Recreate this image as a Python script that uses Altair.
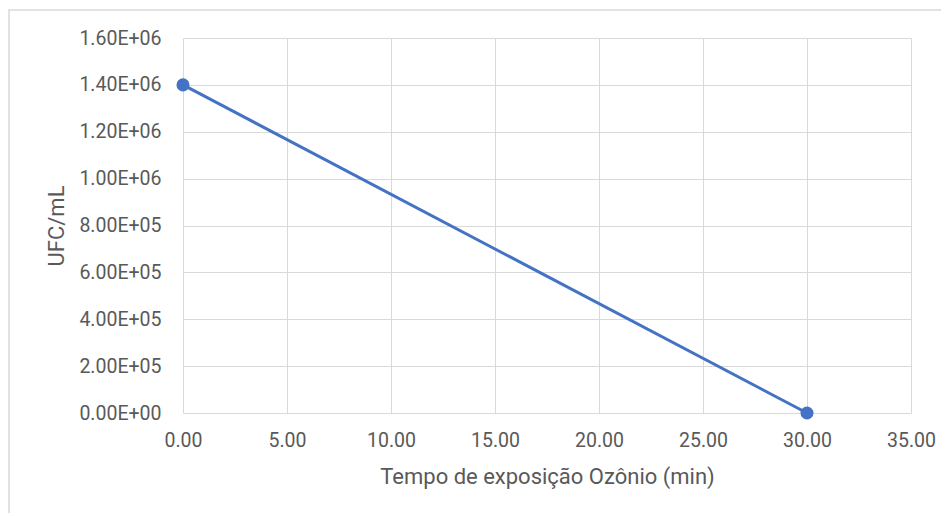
import altair as alt
import pandas as pd

# data
tempo_min = [0.0, 30.0]
ufc_ml = [1.4e6, 0.0]

x_ticks = [0, 5, 10, 15, 20, 25, 30, 35]
y_ticks = [0, 200000, 400000, 600000, 800000, 1000000, 1200000, 1400000, 1600000]
y_tick_labels = ["0.00E+00", "2.00E+05", "4.00E+05", "6.00E+05", "8.00E+05",
                 "1.00E+06", "1.20E+06", "1.40E+06", "1.60E+06"]

df = pd.DataFrame({"tempo": tempo_min, "ufc": ufc_ml})

label_expr = " : ".join(
    f"datum.value == {v} ? '{l}'" for v, l in zip(y_ticks, y_tick_labels)
) + " : ''"

FONT = "Roboto"
TXT = "#595959"
GRID = "#d9d9d9"
BLUE = "#4472C4"

x_enc = alt.X(
    "tempo:Q",
    scale=alt.Scale(domain=[0, 35], nice=False),
    axis=alt.Axis(
        values=x_ticks, format=".2f", title="Tempo de exposição Ozônio (min)",
        grid=True, gridColor=GRID, domain=False, ticks=False,
        labelFlush=False, labelOverlap=False,
        labelPadding=18, labelFontSize=19.5, labelColor=TXT, labelFont=FONT,
        titleFontSize=22, titleColor=TXT, titleFont=FONT, titleFontWeight="normal",
        titleBaseline="alphabetic", titleY=70,
    ),
)
y_enc = alt.Y(
    "ufc:Q",
    scale=alt.Scale(domain=[0, 1600000], nice=False),
    axis=alt.Axis(
        values=y_ticks, labelExpr=label_expr, title="UFC/mL",
        grid=True, gridColor=GRID, domain=False, ticks=False,
        labelFlush=False, labelOverlap=False,
        labelPadding=22, labelFontSize=19.5, labelColor=TXT, labelFont=FONT,
        titleFontSize=22, titleColor=TXT, titleFont=FONT, titleFontWeight="normal",
        titleBaseline="alphabetic", titleX=-120, titleY=187.5, titleAngle=-90,
        titleAlign="center",
    ),
)

base = alt.Chart(df)
line = base.mark_line(color=BLUE, strokeWidth=3).encode(x=x_enc, y=y_enc)
pts = base.mark_point(color=BLUE, filled=True, size=170, opacity=1).encode(x="tempo:Q", y="ufc:Q")

frame = alt.Chart(pd.DataFrame({"a": [0]})).mark_rect(
    fill=None, stroke=GRID, strokeWidth=1.5, clip=False
).encode(
    x=alt.value(-174), x2=alt.value(800), y=alt.value(-28), y2=alt.value(520)
)

chart = alt.layer(frame, line, pts).properties(
    width=728, height=375,
    autosize=alt.AutoSizeParams(type="none"),
    padding={"left": 175, "top": 30, "right": 30, "bottom": 100},
).configure_view(stroke=None)

chart.save("out.html", embed_options={"renderer": "svg", "actions": False})
